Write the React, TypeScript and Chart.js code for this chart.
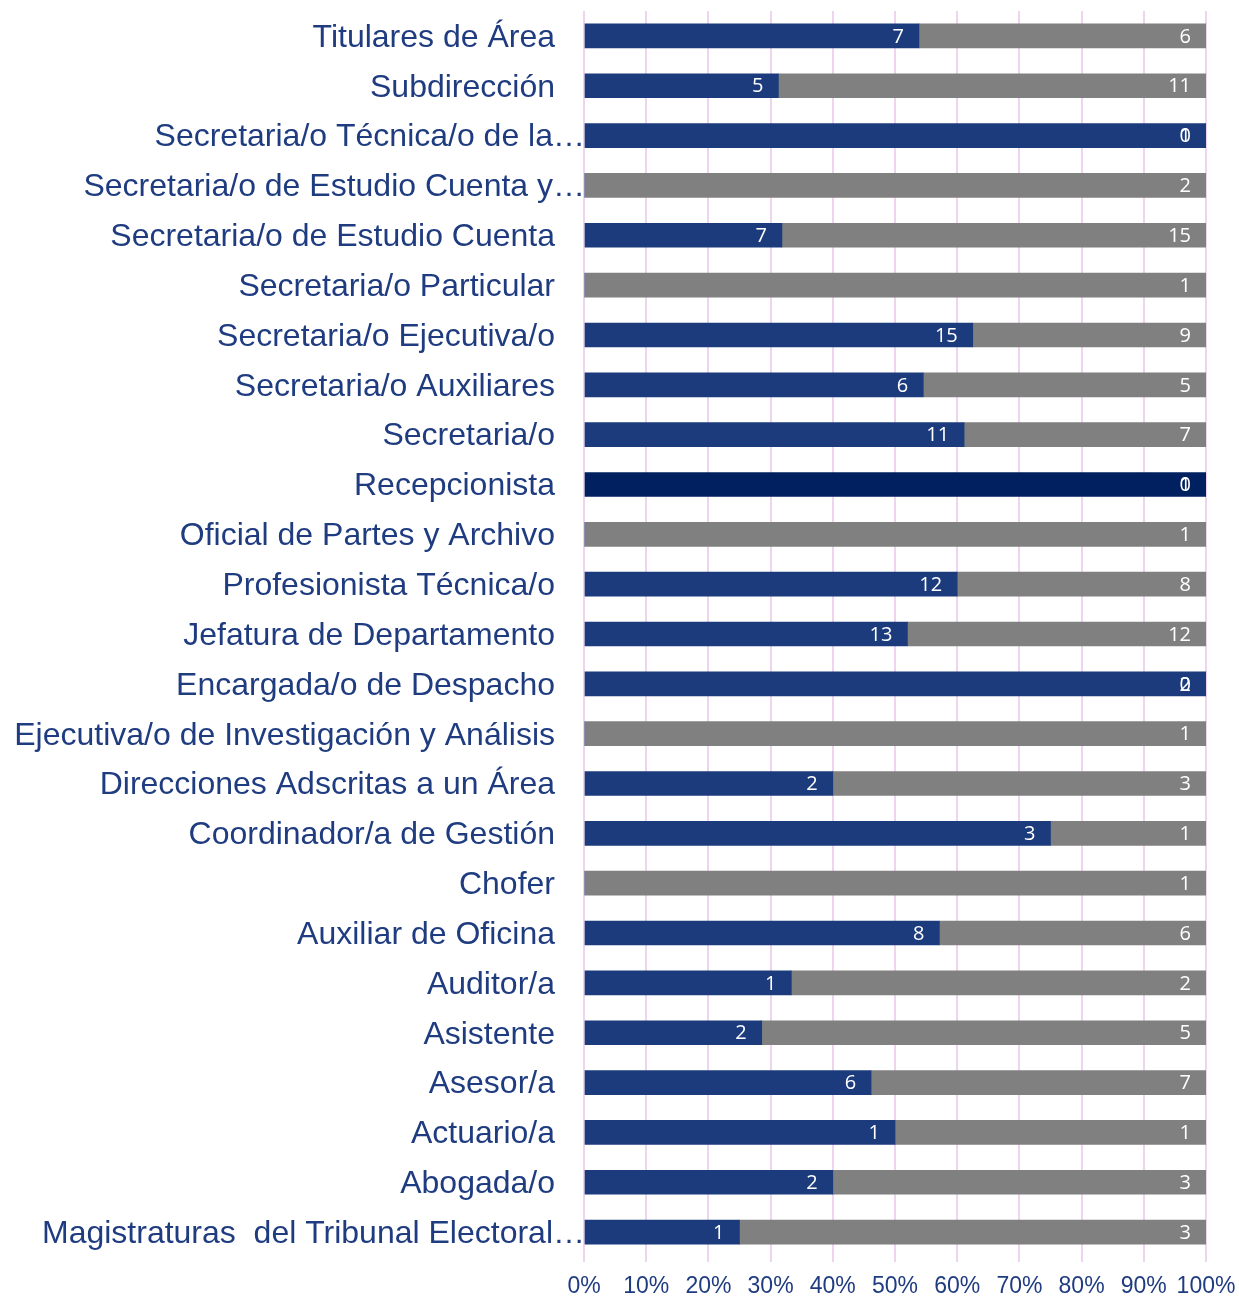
import React, { useEffect, useRef } from "react";
import { Chart, registerables } from "chart.js";

Chart.register(...registerables);

const categories: string[] = [
  "Titulares de Área",
  "Subdirección",
  "Secretaria/o Técnica/o de la…",
  "Secretaria/o de Estudio Cuenta y…",
  "Secretaria/o de Estudio Cuenta",
  "Secretaria/o Particular",
  "Secretaria/o Ejecutiva/o",
  "Secretaria/o Auxiliares",
  "Secretaria/o",
  "Recepcionista",
  "Oficial de Partes y Archivo",
  "Profesionista Técnica/o",
  "Jefatura de Departamento",
  "Encargada/o de Despacho",
  "Ejecutiva/o de Investigación y Análisis",
  "Direcciones Adscritas a un Área",
  "Coordinador/a de Gestión",
  "Chofer",
  "Auxiliar de Oficina",
  "Auditor/a",
  "Asistente",
  "Asesor/a",
  "Actuario/a",
  "Abogada/o",
  "Magistraturas  del Tribunal Electoral…",
];

const truncated: boolean[] = categories.map((c) => c.endsWith("…"));

const blueCounts: number[] = [7, 5, 1, 0, 7, 0, 15, 6, 11, 1, 0, 12, 13, 2, 0, 2, 3, 0, 8, 1, 2, 6, 1, 2, 1];
const grayCounts: number[] = [6, 11, 0, 2, 15, 1, 9, 5, 7, 0, 1, 8, 12, 0, 1, 3, 1, 1, 6, 2, 5, 7, 1, 3, 3];

const xTicks: number[] = [0, 10, 20, 30, 40, 50, 60, 70, 80, 90, 100];

const BLUE = "#1b3b7d";
const DARK_BLUE = "#002060";
const GRAY = "#808080";
const TEXT = "#1f3c80";
const GRID = "#efd4ef";

const labelPlugin = {
  id: "segLabels",
  afterDatasetsDraw(chart: any) {
    const ctx = chart.ctx;
    ctx.save();
    ctx.font = "20px 'Open Sans', sans-serif";
    ctx.fillStyle = "#ffffff";
    ctx.textAlign = "right";
    ctx.textBaseline = "middle";
    chart.data.datasets.forEach((ds: any, di: number) => {
      const meta = chart.getDatasetMeta(di);
      meta.data.forEach((el: any, i: number) => {
        const v = ds.counts[i];
        ctx.fillText(String(v), el.x - 15, el.y + 1);
      });
    });
    ctx.restore();

    // category labels
    const yScale = chart.scales.y;
    const left = chart.chartArea.left;
    ctx.save();
    ctx.font = "32px 'Liberation Sans', Arial, sans-serif";
    ctx.fillStyle = TEXT;
    ctx.textAlign = "right";
    ctx.textBaseline = "middle";
    categories.forEach((c, i) => {
      const y = yScale.getPixelForValue(i);
      const x = truncated[i] ? left + 1 : left - 29;
      ctx.fillText(c, x, y + 2);
    });
    ctx.restore();
  },
};

export default function App() {
  const ref = useRef<HTMLCanvasElement | null>(null);

  useEffect(() => {
    document.body.style.margin = "0";
    const totals = blueCounts.map((b, i) => b + grayCounts[i]);
    const bluePct = blueCounts.map((b, i) => (totals[i] ? (b / totals[i]) * 100 : 0));
    const grayPct = grayCounts.map((g, i) => (totals[i] ? (g / totals[i]) * 100 : 0));
    const blueColors = categories.map((c) => (c === "Recepcionista" ? DARK_BLUE : BLUE));

    const chart = new Chart(ref.current as HTMLCanvasElement, {
      type: "bar",
      data: {
        labels: categories,
        datasets: [
          {
            label: "Mujeres",
            data: bluePct,
            counts: blueCounts,
            backgroundColor: blueColors,
            borderWidth: 0,
            barThickness: 24,
          } as any,
          {
            label: "Hombres",
            data: grayPct,
            counts: grayCounts,
            backgroundColor: GRAY,
            borderWidth: 0,
            barThickness: 24,
          } as any,
        ],
      },
      options: {
        indexAxis: "y",
        animation: false,
        responsive: false,
        maintainAspectRatio: false,
        layout: { padding: { left: 584, right: 0, top: 11, bottom: 0 } },
        plugins: { legend: { display: false }, tooltip: { enabled: false } },
        scales: {
          x: {
            stacked: true,
            min: 0,
            max: 100,
            afterBuildTicks: (scale: any) => {
              scale.ticks = xTicks.map((v) => ({ value: v }));
            },
            afterFit: (scale: any) => {
              scale.height = 40;
              scale.paddingRight = 33;
              scale.paddingLeft = 0;
            },
            grid: { color: GRID, lineWidth: 2, drawTicks: true, tickLength: 5 },
            border: { display: false },
            ticks: {
              padding: 11,
              color: TEXT,
              font: { family: "'Liberation Sans', Arial, sans-serif", size: 23, lineHeight: 1.2 },
              callback: (v: any) => `${v}%`,
              maxRotation: 0,
            },
          },
          y: {
            stacked: true,
            afterFit: (scale: any) => {
              scale.width = 0;
            },
            grid: { display: false },
            border: { display: false },
            ticks: { display: false },
          },
        },
      },
      plugins: [labelPlugin],
    });
    return () => chart.destroy();
  }, []);

  return (
    <div style={{ width: 1239, height: 1297, background: "#ffffff" }}>
      <canvas ref={ref} width={1239} height={1297} style={{ display: "block" }} />
    </div>
  );
}
